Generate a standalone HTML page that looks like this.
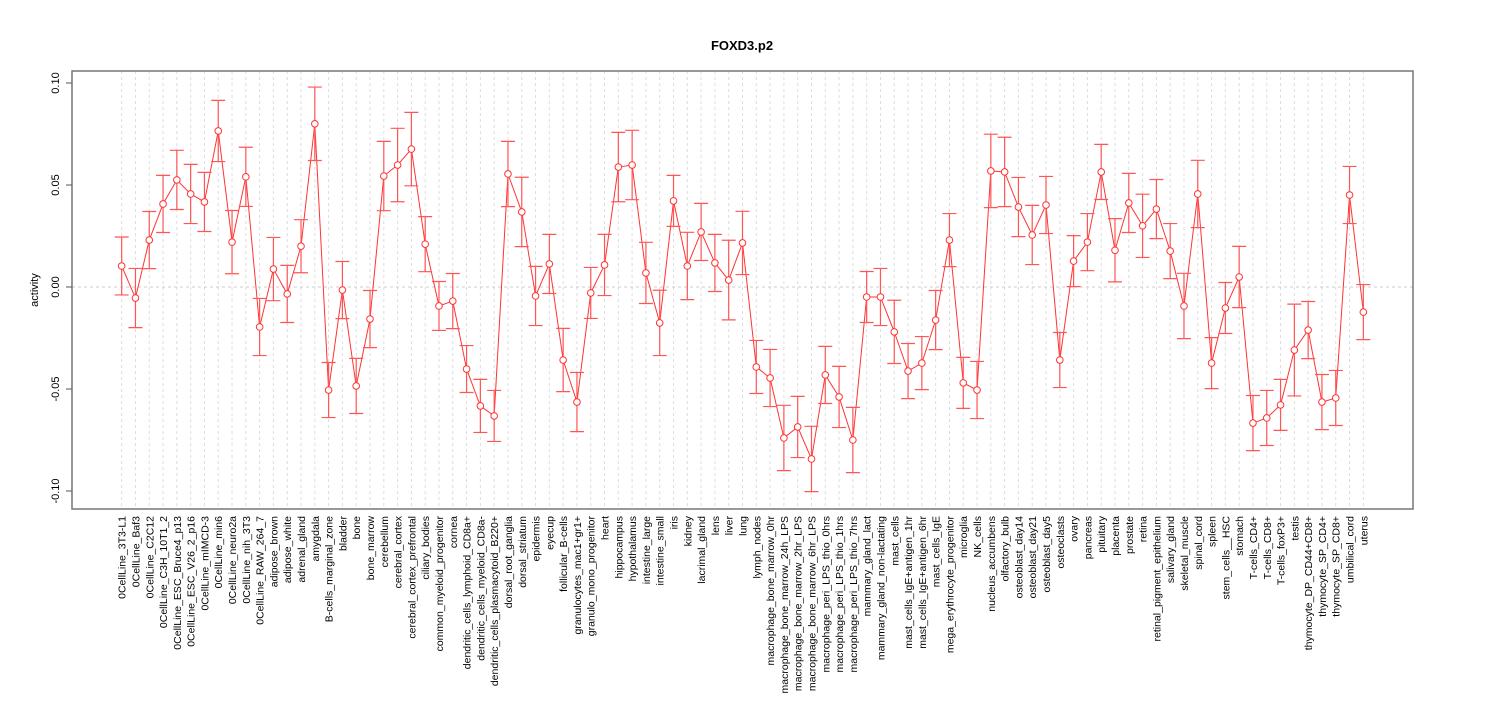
<!DOCTYPE html>
<html><head><meta charset="utf-8"><style>
body{margin:0;background:#fff;}
svg{display:block;font-family:"Liberation Sans",Arial,sans-serif;}
</style></head><body>
<svg id="chart" width="1485" height="720" xmlns="http://www.w3.org/2000/svg">
<text x="742" y="50" text-anchor="middle" font-size="13" font-weight="bold">FOXD3.p2</text>
<text transform="translate(38,290) rotate(-90)" text-anchor="middle" font-size="11">activity</text>
<g id="grid"></g>
<g id="axes"></g>
<g id="series"></g>
</svg>
<script>
const categories=["0CellLine_3T3-L1","0CellLine_Baf3","0CellLine_C2C12","0CellLine_C3H_10T1_2","0CellLine_ESC_Bruce4_p13","0CellLine_ESC_V26_2_p16","0CellLine_mIMCD-3","0CellLine_min6","0CellLine_neuro2a","0CellLine_nih_3T3","0CellLine_RAW_264_7","adipose_brown","adipose_white","adrenal_gland","amygdala","B-cells_marginal_zone","bladder","bone","bone_marrow","cerebellum","cerebral_cortex","cerebral_cortex_prefrontal","ciliary_bodies","common_myeloid_progenitor","cornea","dendritic_cells_lymphoid_CD8a+","dendritic_cells_myeloid_CD8a-","dendritic_cells_plasmacytoid_B220+","dorsal_root_ganglia","dorsal_striatum","epidermis","eyecup","follicular_B-cells","granulocytes_mac1+gr1+","granulo_mono_progenitor","heart","hippocampus","hypothalamus","intestine_large","intestine_small","iris","kidney","lacrimal_gland","lens","liver","lung","lymph_nodes","macrophage_bone_marrow_0hr","macrophage_bone_marrow_24h_LPS","macrophage_bone_marrow_2hr_LPS","macrophage_bone_marrow_6hr_LPS","macrophage_peri_LPS_thio_0hrs","macrophage_peri_LPS_thio_1hrs","macrophage_peri_LPS_thio_7hrs","mammary_gland_lact","mammary_gland_non-lactating","mast_cells","mast_cells_IgE+antigen_1hr","mast_cells_IgE+antigen_6hr","mast_cells_IgE","mega_erythrocyte_progenitor","microglia","NK_cells","nucleus_accumbens","olfactory_bulb","osteoblast_day14","osteoblast_day21","osteoblast_day5","osteoclasts","ovary","pancreas","pituitary","placenta","prostate","retina","retinal_pigment_epithelium","salivary_gland","skeletal_muscle","spinal_cord","spleen","stem_cells__HSC","stomach","T-cells_CD4+","T-cells_CD8+","T-cells_foxP3+","testis","thymocyte_DP_CD44+CD8+","thymocyte_SP_CD4+","thymocyte_SP_CD8+","umbilical_cord","uterus"];
const values=[0.0103,-0.0054,0.023,0.0407,0.0525,0.0456,0.0417,0.0765,0.022,0.054,-0.0196,0.0088,-0.0034,0.020,0.080,-0.0505,-0.0015,-0.0485,-0.0157,0.0544,0.0598,0.0676,0.021,-0.0093,-0.0069,-0.0402,-0.0583,-0.0632,0.0554,0.0368,-0.0044,0.0113,-0.0358,-0.0564,-0.0029,0.0108,0.0588,0.0598,0.0069,-0.0176,0.0422,0.0103,0.027,0.0118,0.0034,0.0216,-0.0392,-0.0446,-0.074,-0.0686,-0.0843,-0.0431,-0.0539,-0.075,-0.0049,-0.0049,-0.022,-0.0412,-0.0373,-0.0162,0.023,-0.047,-0.0505,0.0569,0.0564,0.0392,0.0255,0.0402,-0.0358,0.0127,0.022,0.0564,0.018,0.0412,0.030,0.0382,0.0176,-0.0093,0.0456,-0.0373,-0.0103,0.0049,-0.0667,-0.0642,-0.0578,-0.0309,-0.0211,-0.0564,-0.0544,0.0451,-0.0123];
const errors=[0.0142,0.0145,0.014,0.014,0.0145,0.0145,0.0145,0.015,0.0155,0.0145,0.014,0.0155,0.014,0.013,0.018,0.0135,0.014,0.0135,0.014,0.017,0.018,0.018,0.0135,0.012,0.0135,0.0115,0.013,0.0125,0.016,0.017,0.0145,0.0145,0.0155,0.0145,0.0125,0.015,0.017,0.017,0.015,0.016,0.0125,0.0165,0.014,0.014,0.0195,0.0155,0.013,0.014,0.016,0.015,0.016,0.014,0.015,0.016,0.0125,0.014,0.0155,0.0135,0.013,0.0145,0.013,0.0125,0.014,0.018,0.017,0.0145,0.0145,0.014,0.0135,0.0125,0.014,0.0135,0.0155,0.0145,0.0155,0.0145,0.0135,0.016,0.0165,0.0125,0.0125,0.015,0.0135,0.0135,0.0125,0.0225,0.014,0.0135,0.0135,0.014,0.0135];
const yTicks=[-0.10,-0.05,0.00,0.05,0.10];
const yTickLabels=["-0.10","-0.05","0.00","0.05","0.10"];

const NS="http://www.w3.org/2000/svg";
const L=72,R=1413,T=71,B=509;
const n=categories.length;
const xmin=1-0.04*(n-1), xmax=n+0.04*(n-1);
function xs(i){return L+(i+1-xmin)/(xmax-xmin)*(R-L);}
function ys(v){return 287-v*2040;}
function mk(tag,attrs,parent){const e=document.createElementNS(NS,tag);for(const k in attrs)e.setAttribute(k,attrs[k]);parent.appendChild(e);return e;}
const svg=document.getElementById('chart');
const grid=document.getElementById('grid'),axes=document.getElementById('axes'),series=document.getElementById('series');

categories.forEach((c,i)=>{
  const g=mk('line',{x1:xs(i),x2:xs(i),y1:T,y2:B,stroke:'#ddd','stroke-dasharray':'3,3','stroke-width':1},grid);
  
  
  const t=mk('text',{transform:`translate(${xs(i)+4},516) rotate(-90)`,'text-anchor':'end','font-size':'10.5',fill:'#000'},axes);
  t.textContent=c;
  
  
});
const zl=mk('line',{x1:L,x2:R,y1:ys(0),y2:ys(0),stroke:'#ccc','stroke-dasharray':'3,3'},grid);


const box=mk('rect',{x:L,y:T,width:R-L,height:B-T,fill:'none',stroke:'#777','stroke-width':1.5},axes);


yTicks.forEach((v,k)=>{
  const tk=mk('line',{x1:L-6,x2:L,y1:ys(v),y2:ys(v),stroke:'#555'},axes);
  
  
  const t=mk('text',{transform:`translate(59,${ys(v)}) rotate(-90)`,'text-anchor':'middle','font-size':'11'},axes);
  t.textContent=yTickLabels[k];
  
  
});
let d='';
values.forEach((v,i)=>{d+=(i?'L':'M')+xs(i)+','+ys(v);});
const path=mk('path',{d:d,fill:'none',stroke:'#f33','stroke-width':1},series);


values.forEach((v,i)=>{
  const x=xs(i),y1=ys(v+errors[i]),y2=ys(v-errors[i]);
  const eb=mk('path',{d:`M${x},${y1}L${x},${y2}M${x-7},${y1}L${x+7},${y1}M${x-7},${y2}L${x+7},${y2}`,stroke:'#f55',fill:'none','stroke-width':1.2},series);
  
  
  const c=mk('circle',{cx:x,cy:ys(v),r:3.3,fill:'#fff',stroke:'#f33','stroke-width':1},series);
  
  
});
</script>
</body></html>
